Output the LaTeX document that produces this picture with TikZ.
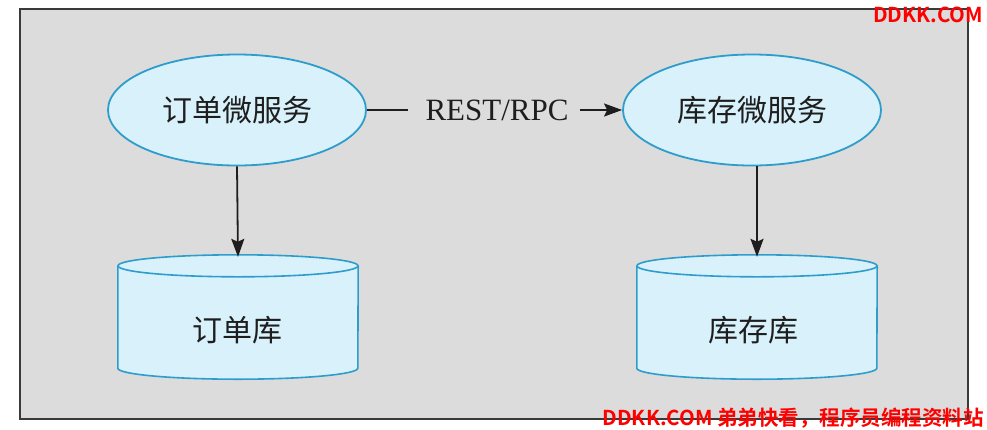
\documentclass[tikz,border=0pt]{standalone}
\usepackage{fontspec}
\setmainfont{Liberation Serif}
\newfontfamily\cjk{Noto Sans CJK SC}
\newfontfamily\cjkb{Noto Sans CJK SC Bold}
\usetikzlibrary{arrows.meta,shapes.geometric}
\definecolor{bg}{HTML}{DCDCDC}
\definecolor{frame}{HTML}{3A3A3A}
\definecolor{cyanfill}{HTML}{D8F1FA}
\definecolor{cyanline}{HTML}{2E9DCC}
\definecolor{ink}{HTML}{1E1E1E}
\definecolor{wm}{HTML}{FF0000}
\tikzset{
  svc/.style={ellipse, draw=cyanline, fill=cyanfill, line width=1.8pt,
    minimum width=258pt, minimum height=111pt, inner sep=0pt,
    font=\cjk\fontsize{30}{30}\selectfont, text=ink},
  dbbox/.style={minimum width=240pt, minimum height=123pt, inner sep=0pt},
  dbtext/.style={font=\cjk\fontsize{30}{30}\selectfont, text=ink},
  conn/.style={draw=ink, line width=1.8pt},
  arr/.style={conn, -{Stealth[length=18pt,width=13pt,inset=3pt]}},
  wmark/.style={font=\cjkb\fontsize{20.5}{20.5}\selectfont, text=wm, inner sep=0pt}
}
\begin{document}
\begin{tikzpicture}[x=1pt,y=-1pt]
\useasboundingbox (0,0) rectangle (987,429);
\fill[white] (0,0) rectangle (987,429);
\draw[frame, fill=bg, line width=2pt] (20,9) rectangle (968,419);

% services
\node[svc] (os) at (237,110) {订单微服务};
\node[svc] (is) at (752,110) {库存微服务};

% databases
\node[dbbox] (db1) at (238,316.5) {};
\node[dbbox] (db2) at (757,316.5) {};
\foreach \d in {db1,db2}{
  \fill[cyanfill] ([yshift=-11pt]\d.north west) -- ([yshift=10pt]\d.south west)
     arc[start angle=180,end angle=360,x radius=120pt,y radius=11pt]
     -- ([yshift=-11pt]\d.north east)
     arc[start angle=0,end angle=180,x radius=120pt,y radius=11pt] -- cycle;
  \draw[cyanline, line width=1.6pt] ([yshift=-11pt]\d.north west) -- ([yshift=10pt]\d.south west)
     arc[start angle=180,end angle=360,x radius=120pt,y radius=11pt]
     -- ([yshift=-11pt]\d.north east);
  \draw[cyanline, line width=1.6pt] ([yshift=-11pt]\d.north) ellipse[x radius=120pt,y radius=11pt];
}
\node[dbtext] (db1t) at (237,330) {订单库};
\node[dbtext] (db2t) at (753,330) {库存库};

% connectors
\node[font=\fontsize{31}{31}\selectfont, text=ink, inner sep=0pt] (rest) at (497,110) {REST/RPC};
\coordinate (restL) at (408,110);
\coordinate (restR) at (580,110);
\draw[conn] (os.east) -- (restL);
\draw[arr] (restR) -- (is.west);
\draw[arr] (os.south) -- ([yshift=-2pt]db1.north);
\draw[arr] (is.south -| db2.north) -- ([yshift=-2pt]db2.north);

% watermarks
\node[wmark] (wm1) at (928,15) {DDKK.COM};
\node[wmark, anchor=east] (wm2) at (984,418) {DDKK.COM 弟弟快看，程序员编程资料站};
\end{tikzpicture}
\end{document}
